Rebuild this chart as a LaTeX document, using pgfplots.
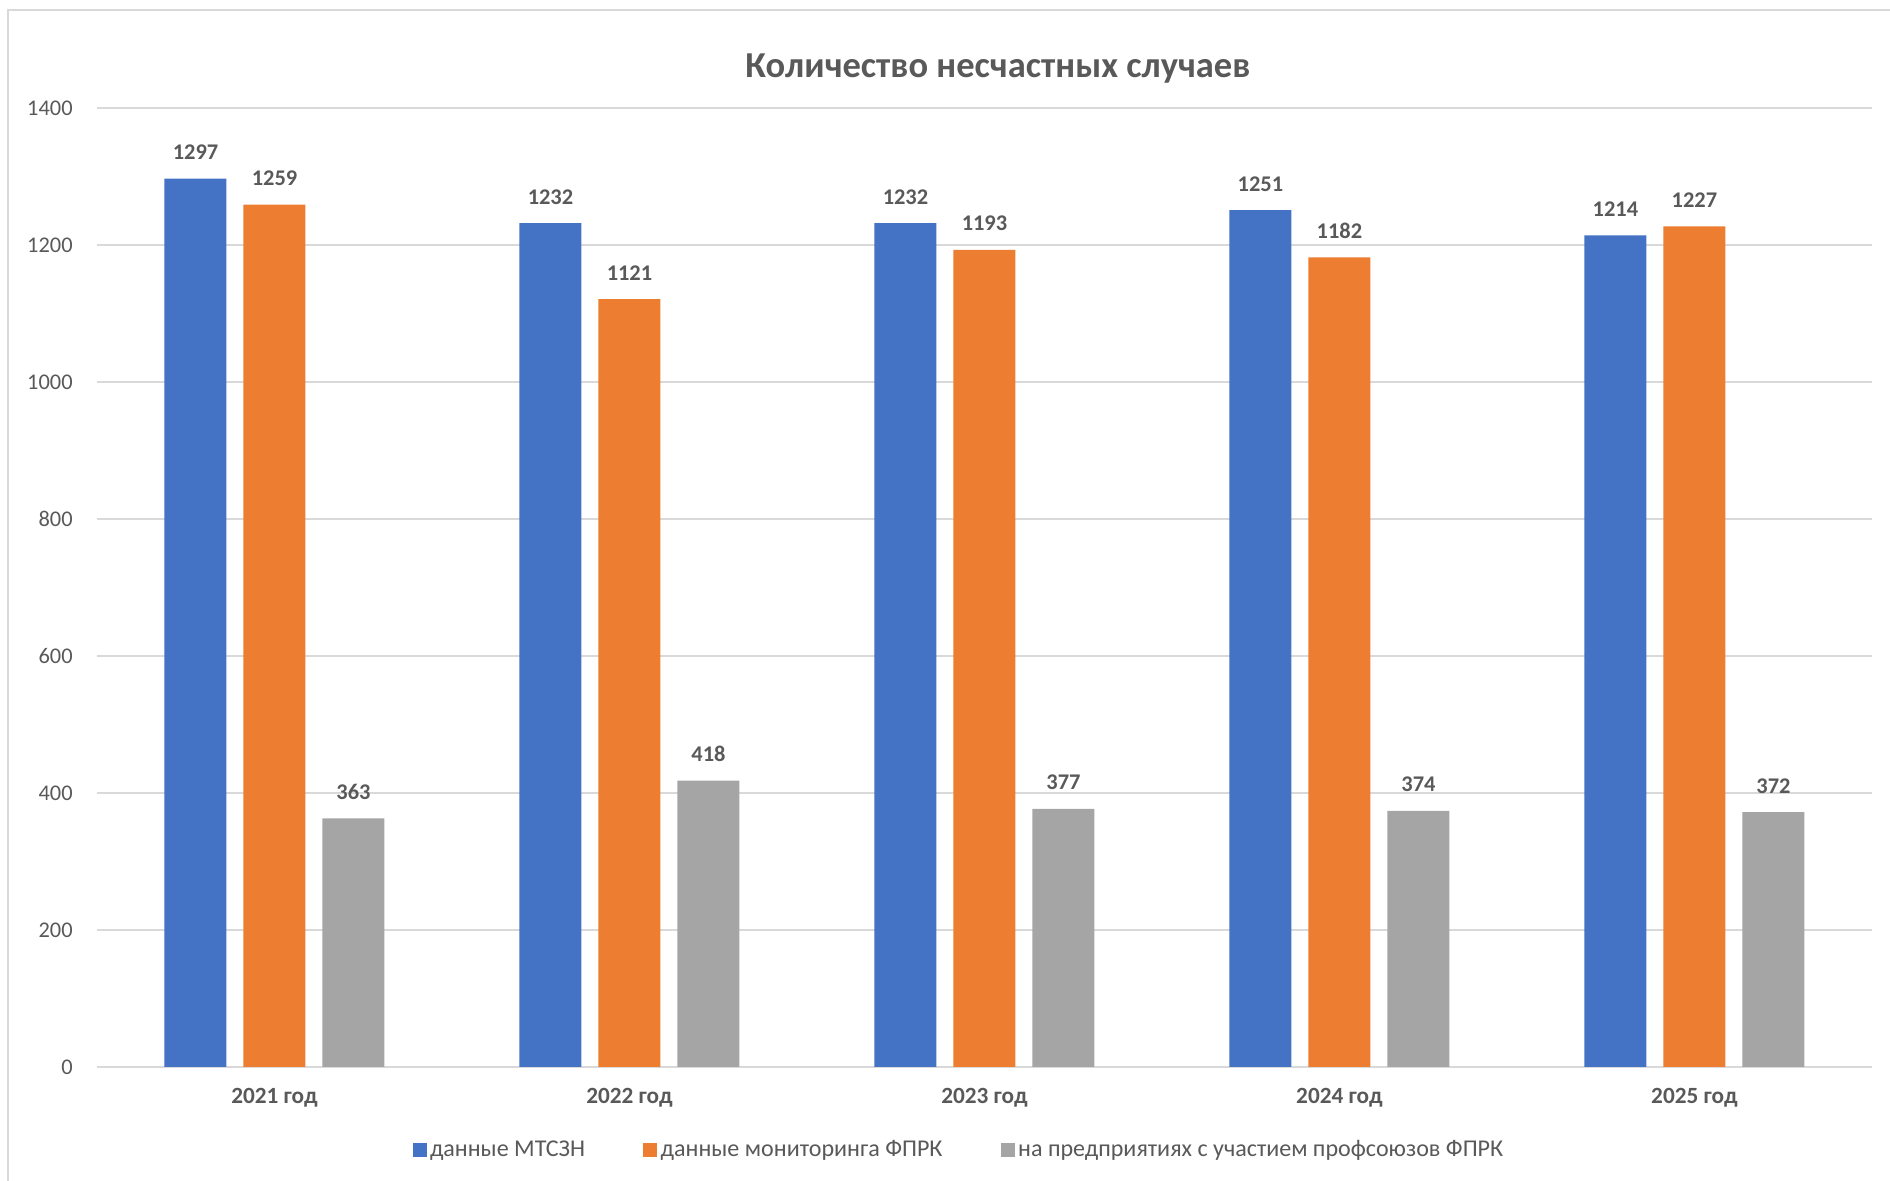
\documentclass[border=0pt]{standalone}
\usepackage{fontspec}
\setmainfont{Carlito}
\usepackage{pgfplots}
\pgfplotsset{compat=1.18}
\definecolor{cblue}{HTML}{4472C4}
\definecolor{corange}{HTML}{ED7D31}
\definecolor{cgray}{HTML}{A5A5A5}
\definecolor{textgray}{HTML}{595959}
\definecolor{gridgray}{HTML}{D9D9D9}

\begin{document}
\begin{tikzpicture}
% 1 px of the reference = 0.6bp
\draw[gridgray, line width=1.2bp] (4.8bp,0) -- (4.8bp,702.6bp) -- (1134bp,702.6bp);
\node[font=\bfseries\fontsize{22}{26}\selectfont, text=textgray] at (598.8bp,667.4bp) {Количество несчастных случаев};

\begin{axis}[
  at={(58.2bp,68.4bp)}, anchor=south west,
  width=1065bp, height=575.4bp, scale only axis,
  ybar=10.2bp, bar width=37.2bp,
  xmin=-0.5, xmax=4.5, ymin=0, ymax=1400,
  ytick={0,200,...,1400},
  xtick={0,...,4},
  xticklabels={2021 год,2022 год,2023 год,2024 год,2025 год},
  ymajorgrids, grid style={draw=gridgray, line width=1.2bp},
  separate axis lines,
  y axis line style={draw=none},
  x axis line style={draw=gridgray, line width=1.2bp},
  axis x line*=bottom,
  major tick length=0pt,
  /pgf/number format/assume math mode=true,
  /pgf/number format/set thousands separator={},
  yticklabel style={font=\fontsize{13.5}{16}\selectfont, text=textgray, inner sep=0pt, xshift=-14.4bp},
  xticklabel style={font=\bfseries\fontsize{14}{16}\selectfont, text=textgray, inner sep=0pt, yshift=-12.5bp},
  nodes near coords,
  nodes near coords style={font=\bfseries\fontsize{13.5}{16}\selectfont, text=textgray, anchor=base, inner sep=0pt, yshift=11.4bp},
  legend style={at={(0.486,-0.0866)}, anchor=center, draw=none, legend columns=3,
    font=\fontsize{14.5}{17}\selectfont, text=textgray,
    /tikz/every even column/.append style={column sep=33bp}},
  legend image code/.code={\fill[#1] (0bp,-4.2bp) rectangle (8.4bp,4.2bp);},
]
\addplot[fill=cblue, draw=none] coordinates {(0,1297) (1,1232) (2,1232) (3,1251) (4,1214)};
\addlegendentry{данные МТСЗН}
\addplot[fill=corange, draw=none] coordinates {(0,1259) (1,1121) (2,1193) (3,1182) (4,1227)};
\addlegendentry{данные мониторинга ФПРК}
\addplot[fill=cgray, draw=none] coordinates {(0,363) (1,418) (2,377) (3,374) (4,372)};
\addlegendentry{на предприятиях с участием профсоюзов ФПРК}
\end{axis}
\pgfresetboundingbox
\path[use as bounding box] (0,0) rectangle (1134bp,708.6bp);
\end{tikzpicture}
\end{document}
